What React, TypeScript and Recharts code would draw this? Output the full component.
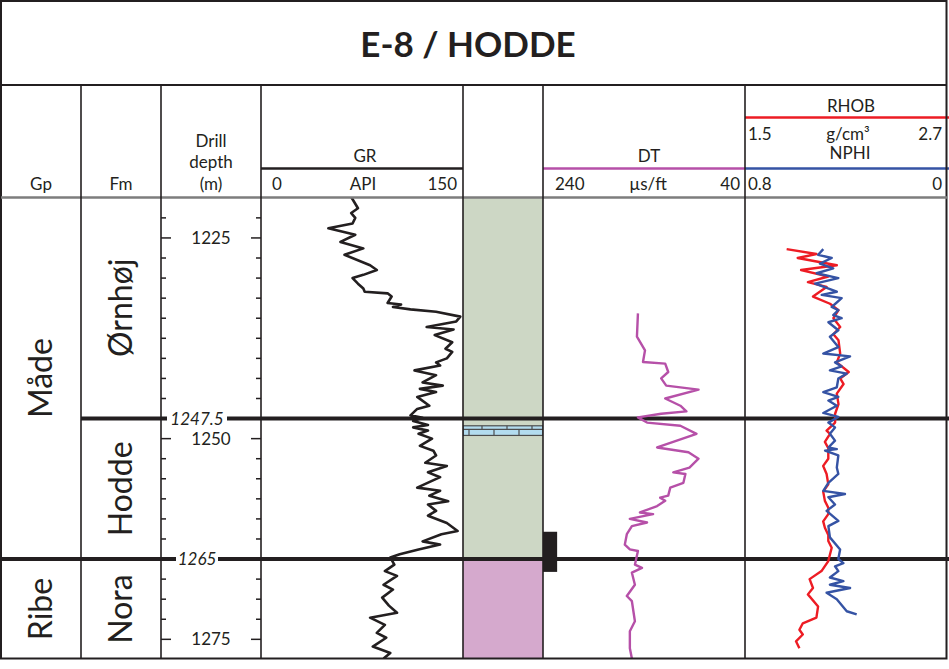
import React from "react";
import {
  ComposedChart,
  Line,
  XAxis,
  YAxis,
  ReferenceLine,
  ReferenceArea
} from "recharts";

const FONT = "Lato, 'Open Sans', sans-serif";
const INK = "#231f20";
const W = 949;
const H = 669;
const PLOT_TOP = 197;
const PLOT_H = 462;

// depth frame (m)
const DEPTH_TOP = 1219.9;
const DEPTH_BASE = 1277.45;
const DEPTH_TICKS = [
  1222.5, 1225, 1227.5, 1230, 1232.5, 1235, 1237.5, 1240, 1242.5, 1245, 1247.5, 1250,
  1252.5, 1255, 1257.5, 1260, 1262.5, 1265, 1267.5, 1270, 1272.5, 1275
];
const DEPTH_LABELS = [1225, 1250, 1275];
const FM_TOPS = [1247.5, 1265];
const GP_TOPS = [1265];

const GROUP_NAMES = ["Måde", "Ribe"];
const GROUP_TOPS = [DEPTH_TOP, 1265];
const GROUP_BASES = [1265, DEPTH_BASE];

const FM_NAMES = ["Ørnhøj", "Hodde", "Nora"];
const FM_TOP_DEPTHS = [DEPTH_TOP, 1247.5, 1265];
const FM_BASE_DEPTHS = [1247.5, 1265, DEPTH_BASE];

const LITHO_TOPS = [DEPTH_TOP, 1265];
const LITHO_BASES = [1265, DEPTH_BASE];
const LITHO_FILLS = ["#cdd7c5", "#d5a9cd"];
const LIMESTONE = [1248.4, 1249.6];
const CORE = [1261.6, 1266.6];

// GR (API)
const GR_DEPTH = [
  1219.9, 1221.3, 1221.9, 1222.5, 1223.2, 1223.8, 1224.6, 1225.5, 1226.3, 1227.1, 1228.4,
  1229.0, 1229.6, 1230.0, 1230.7, 1231.3, 1231.7, 1231.9, 1232.3, 1233.1, 1233.3, 1233.6,
  1233.9, 1234.2, 1234.8, 1235.4, 1236.1, 1236.4, 1237.1, 1238.0, 1238.8, 1239.2, 1240.0,
  1240.5, 1240.9, 1241.5, 1242.1, 1243.0, 1243.4, 1243.8, 1244.2, 1244.8, 1245.9, 1246.3,
  1247.1, 1247.4, 1247.8, 1248.3, 1248.6, 1249.0, 1249.4, 1250.0, 1250.9, 1251.5, 1252.1,
  1253.0, 1253.4, 1254.2, 1254.8, 1256.1, 1256.5, 1257.1, 1257.8, 1258.2, 1259.0, 1259.6,
  1260.5, 1261.5, 1261.9, 1262.8, 1263.2, 1263.8, 1264.4, 1264.8, 1265.7, 1266.5, 1267.1,
  1268.2, 1268.8, 1269.8, 1270.8, 1271.7, 1272.3, 1273.2, 1274.2, 1274.8, 1275.9, 1276.7,
  1277.4
];
const GR_API = [
  67, 72, 67, 70, 68, 50, 70, 59, 76, 62, 81,
  86, 76, 68, 72, 76, 77, 94, 97, 94, 104, 98,
  111, 130, 148, 145, 123, 143, 129, 142, 137, 142, 138,
  130, 133, 114, 130, 120, 135, 118, 130, 116, 125, 116,
  111, 120, 113, 124, 113, 124, 117, 127, 118, 128, 130,
  122, 138, 124, 133, 116, 133, 125, 139, 124, 130, 124,
  138, 146, 134, 120, 133, 117, 103, 96, 99, 92, 101,
  91, 98, 90, 95, 101, 81, 92, 86, 93, 83, 96,
  91
];

// DT (µs/ft)
const DT_DEPTH = [
  1234.4, 1237.3, 1239.0, 1240.45, 1240.65, 1241.7, 1242.5, 1243.4, 1243.9, 1245.0, 1245.9,
  1246.6, 1246.9, 1247.35, 1248.0, 1248.4, 1249.4, 1251.1, 1251.7, 1252.5, 1253.6, 1254.2,
  1254.4, 1255.5, 1256.1, 1257.1, 1257.35, 1257.75, 1258.4, 1259.2, 1259.4, 1260.0, 1260.45,
  1260.9, 1261.9, 1263.2, 1263.8, 1264.0, 1265.7, 1266.1, 1266.7, 1268.2, 1269.6, 1270.25,
  1272.75, 1274.0, 1276.1, 1277.4
];
const DT_US = [
  146, 147, 139, 141, 119, 116, 123, 118, 86, 119, 104,
  98, 123, 146, 137, 104, 88, 127, 96, 86, 95, 111,
  99, 101, 114, 116, 124, 119, 127, 144, 131, 154, 137,
  152, 157, 159, 154, 146, 149, 142, 152, 149, 157, 152,
  149, 154, 154, 152
];

// RHOB (g/cm3)
const RHOB_DEPTH = [
  1226.4, 1227.0, 1227.5, 1228.4, 1229.0, 1229.8, 1230.5, 1231.1, 1232.3, 1233.2, 1234.0,
  1235.0, 1236.1, 1237.0, 1237.75, 1239.4, 1240.5, 1241.7, 1242.5, 1243.2, 1244.4, 1245.7,
  1246.9, 1248.0, 1249.0, 1249.4, 1250.4, 1251.2, 1252.5, 1253.4, 1254.4, 1255.7, 1256.6,
  1257.75, 1258.6, 1259.4, 1260.3, 1261.1, 1262.0, 1262.75, 1263.6, 1265.25, 1266.5, 1267.5,
  1268.6, 1269.4, 1270.9, 1272.3, 1273.0, 1273.8, 1274.4, 1275.25, 1276.1
];
const RHOB_G = [
  1.745, 1.92, 1.81, 2.04, 1.83, 1.99, 1.87, 1.98, 1.9, 2.0, 2.05,
  2.02, 2.06, 2.02, 2.05, 2.06, 2.04, 2.11, 2.06, 2.08, 2.04, 2.05,
  2.03, 2.03, 1.98, 2.0, 1.97, 1.99, 1.99, 1.96, 1.98, 1.99, 1.96,
  1.97, 1.99, 1.99, 1.96, 1.97, 1.99, 1.99, 2.01, 1.99, 1.95, 1.88,
  1.9, 1.87, 1.93, 1.92, 1.84, 1.82, 1.84, 1.8, 1.82
];

// NPHI (v/v)
const NPHI_DEPTH = [
  1226.4, 1227.1, 1227.5, 1228.2, 1228.8, 1229.4, 1230.0, 1230.7, 1231.7, 1232.1, 1232.5,
  1233.6, 1234.0, 1234.6, 1235.0, 1235.5, 1236.5, 1237.3, 1238.6, 1239.4, 1239.75, 1240.5,
  1241.0, 1241.5, 1241.9, 1242.5, 1243.6, 1244.2, 1244.8, 1245.25, 1245.9, 1246.8, 1247.3,
  1248.0, 1248.6, 1249.4, 1250.25, 1251.1, 1251.3, 1251.5, 1252.1, 1253.6, 1254.4, 1255.5,
  1256.5, 1256.9, 1257.3, 1258.2, 1259.0, 1260.25, 1260.9, 1262.3, 1263.8, 1265.0, 1265.5,
  1265.9, 1266.5, 1267.3, 1267.75, 1268.2, 1268.6, 1269.2, 1270.0, 1271.5, 1271.9
];
const NPHI_V = [
  0.493, 0.513, 0.46, 0.506, 0.454, 0.519, 0.434, 0.525, 0.44, 0.499, 0.421,
  0.46, 0.434, 0.454, 0.421, 0.473, 0.434, 0.467, 0.434, 0.493, 0.388, 0.447,
  0.421, 0.467, 0.401, 0.434, 0.44, 0.493, 0.434, 0.473, 0.44, 0.493, 0.434,
  0.473, 0.447, 0.467, 0.447, 0.473, 0.44, 0.486, 0.434, 0.44, 0.434, 0.473,
  0.493, 0.408, 0.473, 0.447, 0.48, 0.434, 0.473, 0.467, 0.427, 0.434, 0.414,
  0.447, 0.434, 0.467, 0.414, 0.467, 0.388, 0.48, 0.44, 0.401, 0.362
];

const zip = (depths: number[], values: number[]) =>
  depths.map((depth, i) => ({ depth, v: values[i] }));

const grData = zip(GR_DEPTH, GR_API);
const dtData = zip(DT_DEPTH, DT_US);
const rhobData = zip(RHOB_DEPTH, RHOB_G);
const nphiData = zip(NPHI_DEPTH, NPHI_V);
// frame rows so that tracks without curves still get scales
const frameData = DEPTH_TICKS.map((depth) => ({ depth, v: 0.5 }));

const MARGIN = { top: 0, right: 0, bottom: 0, left: 0 };
const DEPTH_COL_W = 100;

function Bricks(props: any) {
  const { x, y, width, height } = props;
  const mid = y + height * 0.38;
  const verts: React.ReactNode[] = [];
  for (let bx = x + 19; bx < x + width; bx += 25) {
    verts.push(<line key={"t" + bx} x1={bx} x2={bx} y1={y} y2={mid} />);
  }
  for (let bx = x + 6; bx < x + width; bx += 25) {
    verts.push(<line key={"b" + bx} x1={bx} x2={bx} y1={mid} y2={y + height} />);
  }
  return (
    <g stroke="#4d4d4d" strokeWidth={1.2}>
      <rect x={x} y={y} width={width} height={height} fill="#b3dcef" />
      <line x1={x} x2={x + width} y1={mid} y2={mid} />
      {verts}
    </g>
  );
}

function DepthTick(props: any) {
  const { y, payload } = props;
  const v = payload.value;
  const major = DEPTH_LABELS.includes(v);
  const len = major ? 10 : 5;
  return (
    <g>
      <line x1={0} x2={len} y1={y} y2={y} stroke={INK} strokeWidth={1.5} />
      <line x1={DEPTH_COL_W - len} x2={DEPTH_COL_W} y1={y} y2={y} stroke={INK} strokeWidth={1.5} />
      {major && (
        <text
          x={DEPTH_COL_W / 2}
          y={y}
          dy="0.36em"
          textAnchor="middle"
          fontSize={17}
          fontFamily={FONT}
          fill={INK}
        >
          {v}
        </text>
      )}
    </g>
  );
}

function TopLabel(props: any) {
  const { viewBox, text } = props;
  const y = viewBox.y;
  const cx = viewBox.x + 36;
  const w = text.length * 9 + 6;
  return (
    <g>
      <rect x={cx - w / 2} y={y - 10} width={w} height={20} fill="#fff" />
      <text
        x={cx}
        y={y}
        dy="0.36em"
        textAnchor="middle"
        fontStyle="italic"
        fontSize={17}
        fontFamily={FONT}
        fill={INK}
      >
        {text}
      </text>
    </g>
  );
}

const topLine = (d: number) => (
  <ReferenceLine key={"top" + d} y={d} stroke={INK} strokeWidth={4} />
);

const nameLabel = (value: string) => ({
  value,
  angle: -90,
  position: "center" as const,
  fontSize: 32,
  fontFamily: FONT,
  fill: INK
});

function Header() {
  const t = { fontFamily: FONT, fontSize: 17, fill: INK };
  return (
    <svg width={W} height={PLOT_TOP} style={{ position: "absolute", left: 0, top: 0 }}>
      <text x={468} y={57} textAnchor="middle" fontFamily={FONT} fontWeight={700} fontSize={35} fill={INK}>
        E-8 / HODDE
      </text>
      <text {...t} x={41} y={190} textAnchor="middle">Gp</text>
      <text {...t} x={121} y={190} textAnchor="middle">Fm</text>
      <text {...t} x={211} y={147} textAnchor="middle">Drill</text>
      <text {...t} x={211} y={168} textAnchor="middle">depth</text>
      <text {...t} x={211} y={190} textAnchor="middle">(m)</text>

      <text {...t} x={365} y={162} textAnchor="middle">GR</text>
      <line x1={261} x2={463} y1={168.5} y2={168.5} stroke={INK} strokeWidth={2.5} />
      <text {...t} x={272} y={190}>0</text>
      <text {...t} x={363} y={190} textAnchor="middle">API</text>
      <text {...t} x={457} y={190} textAnchor="end">150</text>

      <text {...t} x={649} y={162} textAnchor="middle">DT</text>
      <line x1={543} x2={745} y1={168.5} y2={168.5} stroke="#b650a8" strokeWidth={2.5} />
      <text {...t} x={555} y={190}>240</text>
      <text {...t} x={648} y={190} textAnchor="middle">µs/ft</text>
      <text {...t} x={740} y={190} textAnchor="end">40</text>

      <text {...t} x={851} y={112} textAnchor="middle">RHOB</text>
      <line x1={745} x2={949} y1={117.5} y2={117.5} stroke="#ed1c24" strokeWidth={2.5} />
      <text {...t} x={748} y={140}>1.5</text>
      <text {...t} x={848} y={140} textAnchor="middle">g/cm³</text>
      <text {...t} x={942} y={140} textAnchor="end">2.7</text>
      <text {...t} x={850} y={159} textAnchor="middle">NPHI</text>
      <line x1={745} x2={949} y1={168.5} y2={168.5} stroke="#3553a4" strokeWidth={2.5} />
      <text {...t} x={748} y={190}>0.8</text>
      <text {...t} x={942} y={190} textAnchor="end">0</text>
    </svg>
  );
}

function Grid() {
  const cols = [81, 161, 261, 463, 543, 745];
  return (
    <svg
      width={W}
      height={H}
      style={{ position: "absolute", left: 0, top: 0, pointerEvents: "none" }}
    >
      <rect x={1} y={1} width={945.5} height={657.5} fill="none" stroke={INK} strokeWidth={2} />
      <line x1={1} x2={947} y1={85} y2={85} stroke={INK} strokeWidth={2} />
      <line x1={1} x2={947} y1={197.5} y2={197.5} stroke="#7d7d7d" strokeWidth={2.5} />
      {cols.map((x) => (
        <line key={x} x1={x} x2={x} y1={85} y2={659} stroke={INK} strokeWidth={1.6} />
      ))}
    </svg>
  );
}

function Track({ left, width, children }: { left: number; width: number; children: React.ReactNode }) {
  return (
    <div style={{ position: "absolute", left, top: PLOT_TOP, width, height: PLOT_H }}>
      {children}
    </div>
  );
}

export default function App() {
  return (
    <div
      style={{
        position: "absolute",
        left: 0,
        top: 0,
        width: W,
        height: H,
        background: "#fff",
        fontFamily: FONT,
        overflow: "hidden"
      }}
    >
      <Header />

      {/* Gp column */}
      <Track left={1} width={80}>
        <ComposedChart layout="vertical" width={80} height={PLOT_H} margin={MARGIN} data={frameData}>
          <XAxis type="number" dataKey="v" domain={[0, 1]} hide />
          <YAxis type="number" dataKey="depth" domain={[DEPTH_TOP, DEPTH_BASE]} hide allowDataOverflow />
          {GROUP_NAMES.map((g, i) => (
            <ReferenceArea
              key={g}
              x1={0}
              x2={1}
              y1={GROUP_TOPS[i]}
              y2={GROUP_BASES[i]}
              fill="#fff"
              fillOpacity={0}
              ifOverflow="extendDomain"
              label={nameLabel(g)}
            />
          ))}
          {GP_TOPS.map((d) => topLine(d))}
        </ComposedChart>
      </Track>

      {/* Fm column */}
      <Track left={81} width={80}>
        <ComposedChart layout="vertical" width={80} height={PLOT_H} margin={MARGIN} data={frameData}>
          <XAxis type="number" dataKey="v" domain={[0, 1]} hide />
          <YAxis type="number" dataKey="depth" domain={[DEPTH_TOP, DEPTH_BASE]} hide allowDataOverflow />
          {FM_NAMES.map((f, i) => (
            <ReferenceArea
              key={f}
              x1={0}
              x2={1}
              y1={FM_TOP_DEPTHS[i]}
              y2={FM_BASE_DEPTHS[i]}
              fill="#fff"
              fillOpacity={0}
              ifOverflow="extendDomain"
              label={nameLabel(f)}
            />
          ))}
          {FM_TOPS.map((d) => topLine(d))}
        </ComposedChart>
      </Track>

      {/* depth column */}
      <Track left={161} width={DEPTH_COL_W}>
        <ComposedChart layout="vertical" width={DEPTH_COL_W} height={PLOT_H} margin={MARGIN} data={frameData}>
          <XAxis type="number" dataKey="v" domain={[0, 1]} hide />
          <YAxis
            type="number"
            dataKey="depth"
            domain={[DEPTH_TOP, DEPTH_BASE]}
            allowDataOverflow
            mirror
            width={1}
            ticks={DEPTH_TICKS}
            interval={0}
            axisLine={false}
            tickLine={false}
            tick={<DepthTick />}
          />
          {FM_TOPS.map((d) => (
            <ReferenceLine
              key={d}
              y={d}
              stroke={INK}
              strokeWidth={4}
              label={<TopLabel text={String(d)} />}
            />
          ))}
        </ComposedChart>
      </Track>

      {/* GR */}
      <Track left={261} width={202}>
        <ComposedChart layout="vertical" width={202} height={PLOT_H} margin={MARGIN}>
          <XAxis type="number" domain={[0, 150]} hide allowDataOverflow />
          <YAxis type="number" dataKey="depth" domain={[DEPTH_TOP, DEPTH_BASE]} hide allowDataOverflow />
          {FM_TOPS.map((d) => topLine(d))}
          <Line
            data={grData}
            dataKey="v"
            type="linear"
            stroke={INK}
            strokeWidth={2.6}
            strokeLinejoin="round"
            dot={false}
            isAnimationActive={false}
          />
        </ComposedChart>
      </Track>

      {/* lithology */}
      <Track left={463} width={80}>
        <ComposedChart layout="vertical" width={80} height={PLOT_H} margin={MARGIN} data={frameData}>
          <XAxis type="number" dataKey="v" domain={[0, 1]} hide />
          <YAxis type="number" dataKey="depth" domain={[DEPTH_TOP, DEPTH_BASE]} hide allowDataOverflow />
          {LITHO_FILLS.map((c, i) => (
            <ReferenceArea
              key={c}
              x1={0}
              x2={1}
              y1={LITHO_TOPS[i]}
              y2={LITHO_BASES[i]}
              fill={c}
              fillOpacity={1}
              ifOverflow="extendDomain"
            />
          ))}
          <ReferenceArea
            x1={0}
            x2={1}
            y1={LIMESTONE[0]}
            y2={LIMESTONE[1]}
            shape={(p: any) => <Bricks {...p} />}
          />
          {FM_TOPS.map((d) => topLine(d))}
        </ComposedChart>
      </Track>

      {/* DT */}
      <Track left={543} width={202}>
        <ComposedChart layout="vertical" width={202} height={PLOT_H} margin={MARGIN}>
          <XAxis type="number" domain={[40, 240]} reversed hide allowDataOverflow />
          <YAxis type="number" dataKey="depth" domain={[DEPTH_TOP, DEPTH_BASE]} hide allowDataOverflow />
          {FM_TOPS.map((d) => topLine(d))}
          <Line
            data={dtData}
            dataKey="v"
            type="linear"
            stroke="#b650a8"
            strokeWidth={2.4}
            strokeLinejoin="round"
            dot={false}
            isAnimationActive={false}
          />
          <ReferenceArea x1={240} x2={226} y1={CORE[0]} y2={CORE[1]} fill={INK} fillOpacity={1} />
        </ComposedChart>
      </Track>

      {/* RHOB / NPHI */}
      <Track left={745} width={204}>
        <ComposedChart layout="vertical" width={204} height={PLOT_H} margin={MARGIN}>
          <XAxis type="number" domain={[1.5, 2.7]} hide allowDataOverflow />
          <XAxis xAxisId="nphi" type="number" domain={[0, 0.8]} reversed hide allowDataOverflow />
          <YAxis type="number" dataKey="depth" domain={[DEPTH_TOP, DEPTH_BASE]} hide allowDataOverflow />
          {FM_TOPS.map((d) => topLine(d))}
          <Line
            data={rhobData}
            dataKey="v"
            type="linear"
            stroke="#ed1c24"
            strokeWidth={2.4}
            strokeLinejoin="round"
            dot={false}
            isAnimationActive={false}
          />
          <Line
            data={nphiData}
            dataKey="v"
            xAxisId="nphi"
            type="linear"
            stroke="#3553a4"
            strokeWidth={2.4}
            strokeLinejoin="round"
            dot={false}
            isAnimationActive={false}
          />
        </ComposedChart>
      </Track>

      <Grid />
    </div>
  );
}
